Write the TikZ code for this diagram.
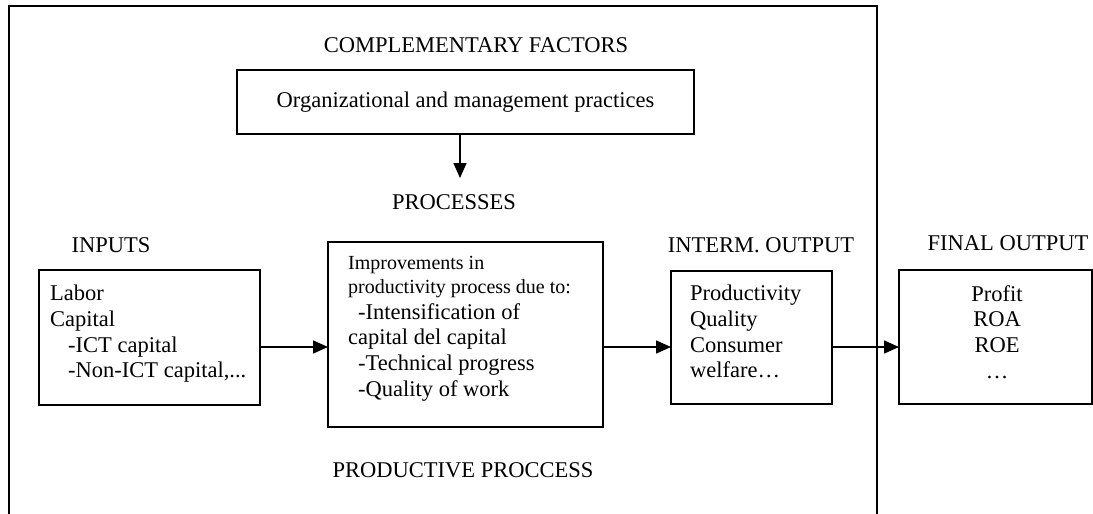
\documentclass[tikz,border=0pt]{standalone}
\usepackage{fontspec}
\setmainfont{Liberation Serif}
\usetikzlibrary{arrows.meta}
\begin{document}
\begin{tikzpicture}[x=1pt,y=-1pt,
  boxstyle/.style={draw,line width=1.5pt,inner sep=0pt,outer sep=0pt,anchor=north west},
  lbl/.style={inner sep=0pt,font=\fontsize{22.5}{25.7}\selectfont},
  boxtext/.style={inner sep=0pt,anchor=north west,align=left,font=\fontsize{22.5}{25.7}\selectfont},
  arr/.style={line width=1.5pt,-{Triangle[length=15pt,width=13pt]}}]
\useasboundingbox (0,0) rectangle (1093,514);
% outer frame
\draw[line width=1.6pt] (9,514) -- (9,6) -- (877,6) -- (877,514);
% labels
\node[lbl] (complab) at (476,45) {COMPLEMENTARY FACTORS};
\node[lbl] (proclab) at (454,202) {PROCESSES};
\node[lbl] (inplab) at (111,245) {INPUTS};
\node[lbl] (intlab) at (761,245) {INTERM. OUTPUT};
\node[lbl] (finlab) at (1008,243) {FINAL OUTPUT};
\node[lbl] (prodlab) at (463,470) {PRODUCTIVE PROCCESS};
% boxes
\node[boxstyle,minimum width=457,minimum height=64] (org) at (237,70) {};
\node[lbl] (orgtext) at (org.center) {Organizational and management practices};
\node[boxstyle,minimum width=221,minimum height=135] (inputs) at (39,270) {};
\node[boxtext] (inputstext) at (50,285) {Labor\\Capital\\\hspace*{18pt}-ICT capital\\\hspace*{18pt}-Non-ICT capital,...};
\node[boxstyle,minimum width=275,minimum height=185] (middle) at (328,242) {};
\node[boxtext,font=\fontsize{20}{24}\selectfont] (midtop) at (348,256) {Improvements in\\productivity process due to:};
\node[boxtext] (midtext) at (348,303) {\hspace*{10pt}-Intensification of\\capital del capital\\\hspace*{10pt}-Technical progress\\\hspace*{10pt}-Quality of work};
\node[boxstyle,minimum width=161,minimum height=133] (interm) at (671,271) {};
\node[boxtext] (intermtext) at (690,285) {Productivity\\Quality\\Consumer\\welfare…};
\node[boxstyle,minimum width=193,minimum height=134] (final) at (899,270) {};
\node[boxtext,align=center,anchor=north] (finaltext) at (997,285) {Profit\\ROA\\ROE\\…};
% connectors
\coordinate (ay) at (0,347);
\coordinate (procarrow) at (460,178);
\draw[arr] (org.south -| procarrow) -- (procarrow);
\draw[arr] (inputs.east |- ay) -- (middle.west |- ay);
\draw[arr] (middle.east |- ay) -- (interm.west |- ay);
\draw[arr] (interm.east |- ay) -- (final.west |- ay);
\end{tikzpicture}
\end{document}
